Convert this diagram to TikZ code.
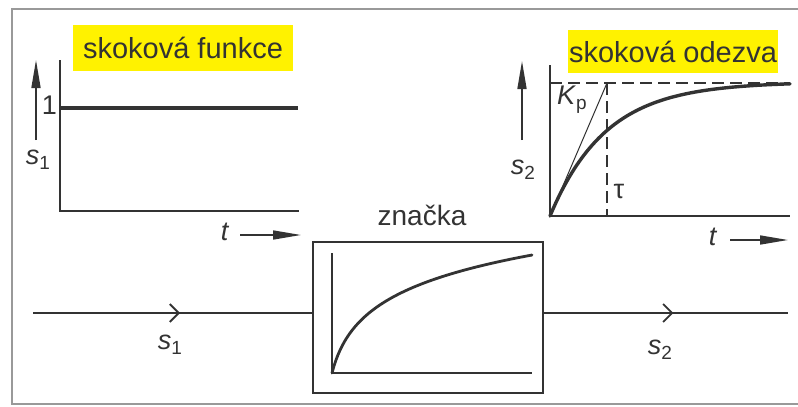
\documentclass[tikz,border=0pt]{standalone}
\usepackage{fontspec}
\setmainfont{Liberation Sans}
\usetikzlibrary{arrows.meta,decorations.markings}
\definecolor{ink}{HTML}{333333}
\definecolor{frm}{HTML}{999999}
\definecolor{hl}{HTML}{FFF200}
\newcommand{\subs}[1]{\raisebox{-5pt}{\fontsize{19}{21}\selectfont #1}}
\begin{document}
\begin{tikzpicture}[x=1pt,y=-1pt,
  axis/.style={ink,line width=2.6pt,line join=miter},
  curve/.style={ink,line width=3.4pt,line cap=round},
  ttl/.style={fill=hl,inner sep=0pt,text=ink,font=\fontsize{29}{33}\selectfont},
  lbl/.style={text=ink,inner sep=0pt,font=\fontsize{27}{30}\selectfont},
  dirarrow/.style={ink,line width=1.6pt,-{Triangle[length=28pt,width=9pt]}},
  dsh/.style={ink,line width=1.4pt,dash pattern=on 12pt off 6pt},
  sig/.style={ink,line width=1.8pt,postaction={decorate},
    decoration={markings,mark=at position #1 with {\arrow{Straight Barb[length=9pt,width=18pt,line width=1.8pt]}}}},
  blockbox/.style={draw=ink,line width=2pt,minimum width=230pt,minimum height=151pt,inner sep=0pt}
]
\useasboundingbox (0,0) rectangle (798,407);
% frame
\draw[frm,line width=2pt] (798,9) -- (12,9) -- (12,404) -- (798,404);

% ---------- left graph: step function
\node[ttl,minimum width=220pt,minimum height=46pt] (t1) at (183,48) {skoková funkce};
\draw[axis] (60,60) -- (60,211) -- (299,211);
\draw[curve,line cap=butt] (60,108) -- (298,108);
\node[lbl,anchor=east] (one) at (57,105) {1};
\coordinate (a1s) at (36,140);
\coordinate (a1e) at (36,60);
\draw[dirarrow] (a1s) -- (a1e);
\node[lbl] (s1a) at (38,160) {\textit{s}\subs{1}};
\node[lbl] (t1l) at (225,232) {\textit{t}};
\coordinate (b1s) at (240,235);
\coordinate (b1e) at (301,235);
\draw[dirarrow] (b1s) -- (b1e);

% ---------- right graph: step response
\node[ttl,minimum width=210pt,minimum height=43pt] (t2) at (673,51.5) {skoková odezva};
\draw[dsh] (550,83) -- (790,83);
\draw[dsh] (607,83) -- (607,216);
\draw[ink,line width=1pt] (550,216) -- (607,83);
\draw[curve] plot[domain=0:240,samples=80] ({550+\x},{216-134*(1-exp(-\x/56))});
\draw[axis] (550,65) -- (550,216) -- (790,216);
\node[lbl] (kp) at (572,100) {\textit{K}\subs{p}};
\node[lbl] (tau) at (619,191) {τ};
\coordinate (a2s) at (522,140);
\coordinate (a2e) at (522,61);
\draw[dirarrow] (a2s) -- (a2e);
\node[lbl] (s2a) at (523,170) {\textit{s}\subs{2}};
\node[lbl] (t2l) at (713,237) {\textit{t}};
\coordinate (b2s) at (730,240);
\coordinate (b2e) at (788,240);
\draw[dirarrow] (b2s) -- (b2e);

% ---------- block symbol
\node[blockbox] (blk) at (428,317.5) {};
\node[lbl,font=\fontsize{28}{31}\selectfont] (zn) at (422,215) {značka};
\draw[ink,line width=2pt] (332,253) -- (332,373) -- (532,373);
\draw[ink,line width=2.8pt,line cap=round] plot[domain=0:200,samples=100] ({332+\x},{373-38.75*ln(1+\x/10)});

% ---------- signal line
\coordinate (in) at (33,313);
\coordinate (out) at (788,313);
\draw[sig=0.527] (in) -- (in -| blk.west);
\draw[sig=0.53] (blk.east |- in) -- (out);
\node[lbl] (s1b) at (170,345) {\textit{s}\subs{1}};
\node[lbl] (s2b) at (660,350) {\textit{s}\subs{2}};
\end{tikzpicture}
\end{document}
